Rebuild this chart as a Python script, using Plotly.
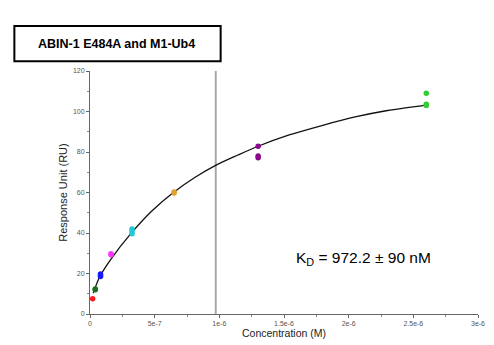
import plotly.graph_objects as go

# Measured data points (concentration M, response RU)
conc_red = [2.03e-8]; resp_red = [7.5]
conc_dkgreen = [4.06e-8, 4.06e-8]; resp_dkgreen = [12.4, 12.0]
conc_blue = [8.125e-8, 8.125e-8, 8.125e-8]; resp_blue = [19.8, 19.0, 18.5]
conc_magenta = [1.625e-7, 1.625e-7]; resp_magenta = [29.8, 29.3]
conc_cyan = [3.25e-7, 3.25e-7, 3.25e-7]; resp_cyan = [42.0, 40.8, 39.6]
conc_orange = [6.5e-7, 6.5e-7]; resp_orange = [60.3, 59.8]
conc_purple = [1.3e-6, 1.3e-6, 1.3e-6]; resp_purple = [82.8, 78.0, 77.2]
conc_green = [2.6e-6, 2.6e-6, 2.6e-6]; resp_green = [109.0, 103.6, 103.0]

# Fitted curve
fit_x = [2.5e-8, 7.6e-8, 1.65e-7, 3.16e-7, 4.8e-7, 6.45e-7, 8.1e-7, 9.75e-7,
         1.14e-6, 1.29e-6, 1.54e-6, 1.80e-6, 2.05e-6, 2.30e-6, 2.6e-6]
fit_y = [10.3, 18.5, 27.4, 39.7, 51.0, 60.0, 67.4, 73.5,
         78.4, 82.6, 88.4, 93.2, 97.3, 100.5, 103.2]

kd_value = 0.9722e-6
x_ticks = [0, 5e-7, 1e-6, 1.5e-6, 2e-6, 2.5e-6, 3e-6]
x_tick_labels = ["0", "5e-7", "1e-6", "1.5e-6", "2e-6", "2.5e-6", "3e-6"]
y_ticks = [0, 20, 40, 60, 80, 100, 120]

series = [
    (conc_red, resp_red, "#ff1a1a"),
    (conc_dkgreen, resp_dkgreen, "#1b6e1b"),
    (conc_blue, resp_blue, "#1a1aff"),
    (conc_magenta, resp_magenta, "#ff33ff"),
    (conc_cyan, resp_cyan, "#22c8d8"),
    (conc_orange, resp_orange, "#e0a030"),
    (conc_purple, resp_purple, "#8b0a8b"),
    (conc_green, resp_green, "#33cc33"),
]

fig = go.Figure()

# KD vertical line
fig.add_trace(go.Scatter(x=[kd_value, kd_value], y=[0, 120], mode="lines",
                         line=dict(color="#a8a8a8", width=2), hoverinfo="skip"))

fig.add_trace(go.Scatter(x=fit_x, y=fit_y, mode="lines",
                         line=dict(color="#111111", width=1.3, shape="spline", smoothing=0.8)))

for xs, ys, c in series:
    fig.add_trace(go.Scatter(x=xs, y=ys, mode="markers",
                             marker=dict(color=c, size=5.5, line=dict(width=0))))

axis_font = dict(family="Liberation Sans, Arial, sans-serif", size=7, color="#555555")

T, B = 71, 319  # plot top / bottom pixel
H = B - T

fig.update_layout(
    width=494, height=345,
    margin=dict(l=90, r=9, t=T, b=345 - B),
    paper_bgcolor="white", plot_bgcolor="white",
    showlegend=False,
    font=dict(family="Liberation Sans, Arial, sans-serif"),
    xaxis=dict(range=[0, 3e-6], tickvals=x_ticks, ticktext=x_tick_labels,
               showgrid=False, zeroline=False, showline=True, linecolor="#666666", linewidth=1,
               ticks="outside", ticklen=3, tickcolor="#666666", tickfont=axis_font,
               minor=dict(dtick=2.5e-7, ticks="outside", ticklen=2, tickcolor="#888888"),
               title=dict(text="Concentration (M)", font=dict(size=10.5, color="#222222"), standoff=1)),
    yaxis=dict(range=[0, 120], tickvals=y_ticks,
               showgrid=False, zeroline=False, showline=True, linecolor="#666666", linewidth=1,
               ticks="outside", ticklen=3, tickcolor="#666666", tickfont=axis_font,
               minor=dict(dtick=10, ticks="outside", ticklen=2, tickcolor="#888888"),
               title=dict(text="Response Unit (RU)", font=dict(size=11, color="#222222"), standoff=3)),
    shapes=[dict(type="rect", xref="paper", yref="paper",
                 x0=(13 - 90) / 395, x1=(223 - 90) / 395,
                 y0=(B - 61) / H, y1=(B - 25) / H,
                 line=dict(color="black", width=2), fillcolor="white")],
    annotations=[
        dict(text="<b>ABIN-1 E484A and M1-Ub4</b>", xref="paper", yref="paper",
             x=(117 - 90) / 395, y=(B - 43) / H, showarrow=False,
             xanchor="center", yanchor="middle",
             font=dict(size=12.5, color="black")),
        dict(text="K<sub>D</sub> = 972.2 ± 90 nM", xref="paper", yref="paper",
             x=(368 - 90) / 395, y=(B - 262) / H, showarrow=False,
             xanchor="center", yanchor="middle",
             font=dict(size=15.5, color="black")),
    ],
)

fig.write_html("out.html")
